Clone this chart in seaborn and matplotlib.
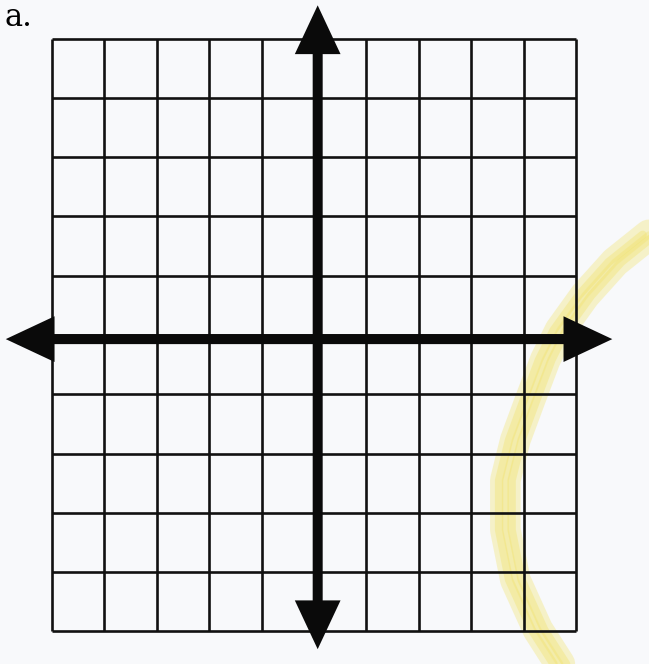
"""Blank coordinate grid worksheet (panel a.) redrawn with seaborn"""

import matplotlib

matplotlib.use("Agg")
import matplotlib.pyplot as plt
import pandas as pd
import seaborn as sns

# grid line positions, in grid units
grid_x = [-5, -4, -3, -2, -1, 0, 1, 2, 3, 4, 5]
grid_y = [-5, -4, -3, -2, -1, 0, 1, 2, 3, 4, 5]

# where the two thick axes sit (slightly off the grid line in the scan)
axis_x_pos = 0.07
axis_y_pos = -0.07

# arrow tips: (left, right) for the x axis, (bottom, top) for the y axis
x_axis_tips = [-5.88, 5.69]
y_axis_tips = [-5.30, 5.56]

# yellow highlighter stroke on the right-hand side
marker_x = [6.39, 5.74, 5.17, 4.69, 4.41, 4.12, 3.84, 3.65, 3.65, 3.84, 4.27, 4.69]
marker_y = [1.69, 1.23, 0.67, 0.08, -0.42, -1.10, -1.77, -2.45, -3.29, -4.13, -4.97, -5.55]

panel_label = "a."

sns.set_style("white")

fig = plt.figure(figsize=(6.49, 6.64), dpi=100)
fig.patch.set_facecolor("#f8f9fb")
ax = fig.add_axes([0, 0, 1, 1])
ax.set_facecolor("#f8f9fb")
ax.set_xlim(-5.99, 6.39)
ax.set_ylim(-5.55, 5.65)
ax.axis("off")

# highlighter: a few overlapping soft strokes
marker_df = pd.DataFrame({"x": marker_x, "y": marker_y})
for shift, width, alpha in [(0.0, 22, 0.3), (-0.12, 6, 0.3), (0.12, 6, 0.3), (0.0, 5, 0.25)]:
    sns.lineplot(
        x=marker_df["x"] + shift,
        y=marker_df["y"],
        sort=False,
        estimator=None,
        color="#f0df55",
        lw=width,
        alpha=alpha,
        solid_capstyle="round",
        ax=ax,
    )

# the grid
ax.vlines(grid_x, grid_y[0], grid_y[-1], colors="#111111", lw=1.9)
ax.hlines(grid_y, grid_x[0], grid_x[-1], colors="#111111", lw=1.9)

# thick axes with arrowheads at both ends
arrow = dict(
    arrowstyle="<|-|>,head_length=0.32,head_width=0.15",
    mutation_scale=72,
    lw=7.2,
    color="#0a0a0a",
    shrinkA=0,
    shrinkB=0,
    joinstyle="miter",
    capstyle="butt",
)
ax.annotate("", xy=(x_axis_tips[1], axis_y_pos), xytext=(x_axis_tips[0], axis_y_pos), arrowprops=arrow)
ax.annotate("", xy=(axis_x_pos, y_axis_tips[1]), xytext=(axis_x_pos, y_axis_tips[0]), arrowprops=arrow)

fig.text(5 / 649, 1 - 26 / 664, panel_label, family="DejaVu Serif", fontsize=22, color="#000000")

plt.savefig("out.png", dpi=100)
plt.close(fig)
